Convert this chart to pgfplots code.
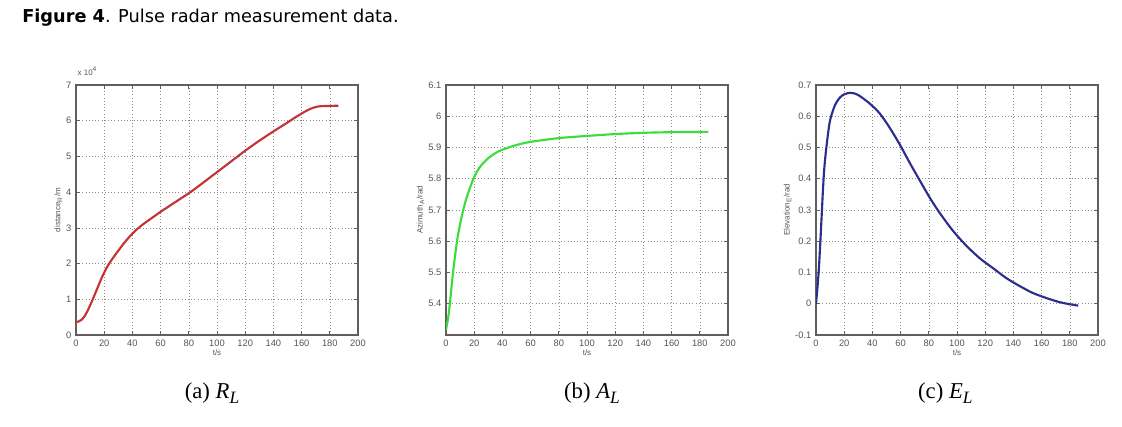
\documentclass[border=0pt]{standalone}
\usepackage{fontspec}
\setmainfont{Liberation Sans}
\newfontfamily\capfont{Liberation Serif}
\newfontfamily\titfont{DejaVu Sans}
\usepackage{pgfplots}
\pgfplotsset{compat=1.18}

\definecolor{gridc}{RGB}{140,140,140}
\definecolor{axc}{RGB}{95,95,95}
\definecolor{tickc}{RGB}{85,85,85}
\definecolor{lred}{RGB}{196,52,52}
\definecolor{lgreen}{RGB}{60,220,60}
\definecolor{lblue}{RGB}{45,45,140}

\newcommand{\subcap}[2]{{\capfont\fontsize{17}{19}\selectfont (#1) \textit{#2}\raisebox{-3.5pt}{\fontsize{13}{15}\selectfont\textit{L}}}}

\pgfplotsset{
 mat/.style={
  scale only axis, width=211.5pt, height=187.5pt,
  anchor=south west,
  xmin=0, xmax=200, xtick={0,20,...,200},
  axis line style={axc, line width=0.8pt},
  tick style={axc, line width=0.5pt},
  major tick length=3pt,
  tick align=inside,
  grid=major,
  major grid style={gridc, dotted, line width=0.4pt},
  tick label style={font=\fontsize{7}{8}\selectfont, text=tickc},
  /pgf/number format/assume math mode=true,
  /pgf/number format/fixed,
  label style={font=\fontsize{6}{7}\selectfont, text=tickc},
  xlabel={t/s},
  xlabel style={yshift=4pt},
  ylabel style={yshift=-4pt},
 }
}

\begin{document}
\begin{tikzpicture}
\path[use as bounding box] (0,0) rectangle (841.5pt,320.25pt);

\node[anchor=west, inner sep=0pt, font=\fontsize{13.3}{15}\selectfont\titfont] at (16.5pt,306.75pt)
  {\textbf{Figure 4}. Pulse radar measurement data.};

% (a)
\begin{axis}[mat, at={(57pt,69pt)},
  ymin=0, ymax=7, ytick={0,1,...,7},
  ylabel={distance\textsubscript{R}/m},
  extra description/.code={\node[anchor=south west, inner sep=1pt, yshift=6pt, font=\fontsize{6}{7}\selectfont, text=tickc] at (0,1) {x 10\textsuperscript{4}};}]
\addplot[lred, line width=1.6pt, smooth] coordinates {
(0,0.36) (2,0.38) (4,0.43) (6,0.52) (8,0.66) (10,0.83) (12,1.01) (14,1.2)
(16,1.39) (18,1.58) (20,1.75) (22,1.9) (24,2.03) (27,2.2) (30,2.36) (34,2.57)
(40,2.84) (45,3.02) (50,3.17) (55,3.31) (60,3.45) (65,3.58) (70,3.71) (75,3.84)
(80,3.97) (85,4.11) (90,4.26) (95,4.41) (100,4.56) (110,4.86) (120,5.16)
(130,5.44) (140,5.7) (150,5.95) (155,6.08) (160,6.2) (164,6.29) (168,6.36)
(172,6.4) (176,6.41) (181,6.415) (186,6.42)};
\end{axis}

% (b)
\begin{axis}[mat, at={(334.5pt,69pt)},
  ymin=5.3, ymax=6.1, ytick={5.4,5.5,5.6,5.7,5.8,5.9,6.0,6.1},
  ylabel={Azimuth\textsubscript{A}/rad}]
\addplot[lgreen, line width=1.6pt, smooth] coordinates {
(0,5.317) (2,5.37) (5,5.5) (7.8,5.6) (10,5.655) (12.5,5.705) (15,5.745)
(19,5.795) (22,5.823) (25,5.843) (30,5.866) (35,5.882) (40,5.893) (50,5.908)
(60,5.918) (80,5.93) (100,5.937) (120,5.943) (140,5.947) (160,5.949) (186,5.95)};
\end{axis}

% (c)
\begin{axis}[mat, at={(612pt,69pt)},
  ymin=-0.1, ymax=0.7, ytick={-0.1,0,0.1,0.2,0.3,0.4,0.5,0.6,0.7},
  ylabel={Elevation\textsubscript{E}/rad}]
\addplot[lblue, line width=1.6pt, smooth] coordinates {
(0,0) (1,0.05) (2,0.11) (3,0.19) (4,0.28) (5,0.37) (6,0.44) (7.6,0.51)
(9.9,0.585) (13.5,0.636) (17,0.66) (20,0.67) (24,0.675) (28,0.672) (31,0.665)
(38,0.641) (45,0.61) (52,0.565) (59.6,0.508) (66.7,0.449) (73.8,0.393)
(81,0.337) (88,0.289) (97.4,0.232) (107,0.184) (116.3,0.145) (125.8,0.113)
(135,0.082) (144.7,0.056) (154,0.034) (163.6,0.018) (172,0.006) (178,0.0)
(186,-0.006)};
\end{axis}

\node[anchor=base, inner sep=0pt] at (159pt,21pt) {\subcap{a}{R}};
\node[anchor=base, inner sep=0pt] at (444pt,21pt) {\subcap{b}{A}};
\node[anchor=base, inner sep=0pt] at (709pt,21pt) {\subcap{c}{E}};
\end{tikzpicture}
\end{document}
